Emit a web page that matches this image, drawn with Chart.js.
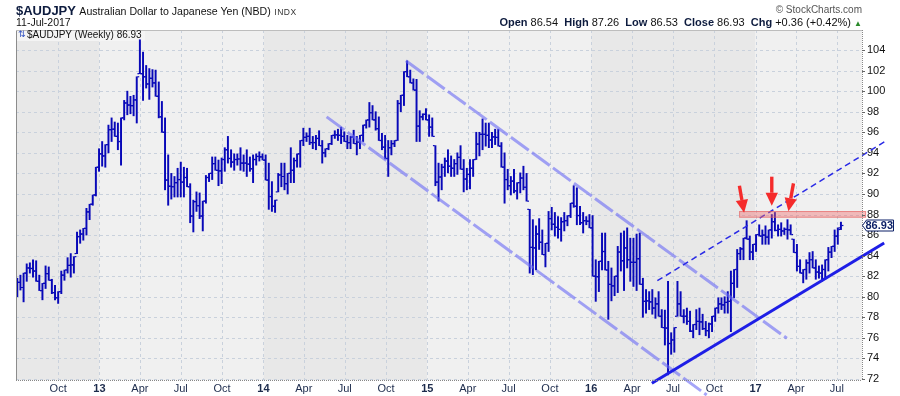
<!DOCTYPE html>
<html><head><meta charset="utf-8">
<script src="https://cdn.jsdelivr.net/npm/chart.js@4.4.0/dist/chart.umd.min.js"></script>
<style>
html,body{margin:0;padding:0;background:#fff;}
#wrap{position:relative;width:900px;height:396px;overflow:hidden;font-family:"Liberation Sans",Arial,sans-serif;}
canvas{position:absolute;left:0;top:0;}
.t{position:absolute;white-space:nowrap;line-height:1;}
</style></head><body>
<div id="wrap">
<canvas id="c" width="900" height="396"></canvas>
<div class="t" style="left:16px;top:4px;font-size:13px;font-weight:bold;color:#0d1b3e;">$AUDJPY <span style="font-weight:normal;font-size:10.6px;color:#111;">Australian Dollar to Japanese Yen (NBD)</span> <span style="font-weight:normal;font-size:8.5px;color:#333;letter-spacing:0.5px;">INDX</span></div>
<div class="t" style="left:16px;top:17px;font-size:10.5px;color:#111;">11-Jul-2017</div>
<div class="t" style="right:38px;top:5px;font-size:10px;color:#555;">&#169; StockCharts.com</div>
<div class="t" style="right:38px;top:17px;font-size:11px;color:#111;"><b style="color:#0d1b3e">Open</b> 86.54&nbsp; <b style="color:#0d1b3e">High</b> 87.26&nbsp; <b style="color:#0d1b3e">Low</b> 86.53&nbsp; <b style="color:#0d1b3e">Close</b> 86.93&nbsp; <b style="color:#0d1b3e">Chg</b> +0.36 (+0.42%) <span style="color:#2a8a2a;font-size:8px;">&#9650;</span></div>
<div class="t" style="left:18px;top:30px;font-size:9px;color:#3050c0;font-family:'DejaVu Sans';">&#8645;</div>
<div class="t" style="left:27px;top:30px;font-size:10px;color:#111;">$AUDJPY (Weekly) 86.93</div>
</div>
<script>
// ---- data (weekly bars, first bar week of 2012-07-02) ----
const firstBarDate = '2012-07-02';
const highs = [
81.8,82.1,82.3,83.2,83.3,83.6,83.5,82.1,81.3,83.0,
82.9,81.7,81.1,80.5,82.5,82.6,83.8,84.2,83.9,86.3,
86.5,86.65,88.6,89.0,89.9,92.6,94.4,95.1,94.8,96.7,
97.4,97.0,96.9,97.4,99.1,100.0,99.5,99.6,101.4,105.0,
103.8,102.5,102.2,102.1,102.05,100.9,99.0,97.4,93.8,92.0,
91.7,92.5,93.1,92.6,92.5,91.0,89.4,90.2,90.1,89.3,
91.8,92.0,93.6,93.6,93.3,93.5,94.5,95.6,94.3,93.9,
93.9,94.5,93.8,94.3,93.6,93.8,93.9,94.1,93.9,93.8,
93.0,91.2,89.4,92.0,93.0,93.0,92.0,94.5,93.5,93.9,
95.2,96.4,95.95,96.4,95.6,95.7,96.15,95.2,94.4,94.9,
95.7,96.15,96.3,96.5,96.05,95.7,95.6,96.2,95.6,95.7,
96.7,97.2,98.9,98.6,98.0,97.5,95.9,95.7,95.2,95.2,
95.2,99.1,99.6,101.9,102.95,102.05,101.2,101.15,98.1,97.8,
98.3,97.7,97.4,94.7,93.0,92.9,93.5,94.3,93.7,93.35,
94.0,94.7,93.35,92.5,93.35,93.35,96.0,96.0,97.3,96.9,
96.9,96.0,96.3,96.3,95.0,94.0,92.4,91.7,92.4,91.1,
92.05,92.7,92.0,88.5,87.5,86.9,87.6,86.5,85.2,88.3,
88.7,88.2,87.8,87.7,88.2,87.9,89.1,90.8,90.6,88.8,
88.2,87.8,88.0,87.9,83.6,83.45,86.2,86.2,83.45,82.8,
82.0,84.9,86.2,86.4,86.7,85.7,85.7,86.1,86.2,81.8,
80.7,80.5,80.7,79.9,80.5,78.75,78.7,81.5,76.5,77.0,
81.5,80.5,78.75,78.9,78.6,77.3,78.75,78.9,78.3,77.6,
77.45,78.1,78.9,79.9,79.9,80.0,80.5,82.5,82.65,84.6,
84.8,85.7,87.4,85.9,85.1,86.05,87.0,86.5,86.9,86.5,
88.0,88.2,87.0,87.2,86.7,87.5,87.0,85.6,85.1,83.6,
82.65,83.6,84.3,84.4,83.6,83.0,83.1,83.6,84.8,84.9,
86.5,86.7,87.26];
const lows = [
80.0,80.65,79.5,81.5,82.3,81.9,81.5,80.6,79.7,80.8,
81.6,80.3,79.7,79.35,80.3,81.6,82.3,81.9,82.3,84.2,
85.2,85.5,86.0,87.5,88.9,89.8,92.2,92.7,92.6,94.0,
95.1,95.6,94.3,92.8,97.2,97.7,97.8,97.6,96.9,101.7,
99.1,100.3,99.2,100.4,99.5,97.4,96.0,90.4,88.9,89.5,
89.7,89.7,89.7,89.7,90.7,87.2,86.3,88.3,87.6,86.4,
89.1,91.2,91.4,92.3,90.8,91.0,92.2,93.0,92.6,92.3,
92.8,92.3,92.2,91.7,92.2,91.1,92.8,93.2,93.3,91.35,
88.5,88.3,88.2,90.2,90.7,90.4,90.0,91.1,91.1,92.6,
92.6,94.7,95.1,94.8,94.4,94.3,94.7,93.0,93.6,94.3,
94.8,95.4,95.2,94.9,95.1,94.4,94.4,94.9,93.8,94.4,
95.1,96.4,96.5,97.2,96.2,95.2,94.3,93.4,91.7,93.8,
94.6,95.2,98.0,98.6,101.4,100.8,100.1,95.1,95.1,97.2,
97.2,95.6,95.6,90.8,89.3,90.4,91.7,92.05,91.7,91.7,
91.9,92.4,90.2,90.4,90.5,91.7,93.35,93.7,94.3,94.65,
94.5,94.5,94.8,94.65,92.6,89.1,90.4,89.9,90.1,89.5,
90.1,90.4,89.3,82.3,82.15,82.6,84.6,84.1,82.9,84.4,
86.5,85.9,85.7,85.4,86.4,86.9,87.7,88.7,87.0,87.0,
86.2,87.0,86.7,82.0,79.55,80.5,82.6,82.6,77.8,79.6,
80.1,80.4,82.5,80.6,82.8,81.5,81.0,80.6,81.2,78.0,
78.4,78.75,78.3,77.9,78.1,77.0,75.3,72.4,74.4,74.6,
78.1,78.1,77.45,77.3,76.6,76.0,76.8,76.3,76.8,76.2,
76.0,76.6,77.6,78.4,78.75,78.4,78.4,76.6,79.9,80.9,
83.6,83.6,85.6,83.6,83.6,84.4,85.9,85.1,85.1,85.1,
85.7,86.4,85.9,85.9,86.05,85.6,86.05,84.3,82.5,82.3,
81.35,81.7,82.3,82.8,81.7,81.8,81.5,81.7,82.5,83.8,
84.4,85.1,86.53];
const opens = [
80.5,81.4,80.9,82.3,82.8,82.75,82.5,81.5,80.6,81.3,
82.25,81.6,80.4,79.9,80.5,82.1,82.6,83.05,83.1,84.2,
85.85,86.1,86.65,88.25,89.0,89.9,92.6,93.9,93.7,94.8,
96.25,96.3,95.6,95.1,97.4,98.85,98.65,98.6,99.15,101.7,
101.7,101.4,100.7,101.25,100.8,99.5,97.5,96.0,91.35,90.75,
90.7,91.1,91.4,91.15,91.6,90.7,87.85,89.25,88.85,87.85,
89.3,91.6,92.0,92.95,92.3,92.25,93.35,94.3,93.45,93.1,
93.35,93.4,93.0,93.0,92.9,92.45,93.35,93.65,93.6,93.3,
91.35,89.75,88.8,90.2,91.85,91.7,91.0,92.0,92.3,93.25,
93.9,95.2,95.5,95.6,95.0,95.0,95.4,94.7,94.0,94.4,
94.9,95.7,95.75,95.7,95.6,95.1,95.0,95.55,94.9,95.05,
95.7,96.7,97.2,97.9,97.2,96.35,95.2,94.55,93.45,94.5,
94.9,95.2,98.8,99.6,101.9,101.4,100.8,100.1,96.6,97.5,
97.75,97.2,96.5,94.7,91.15,91.65,92.6,93.2,92.7,92.5,
92.95,93.55,92.4,91.45,91.9,92.5,93.35,94.85,95.8,95.8,
95.7,95.25,95.55,95.5,94.65,92.6,91.4,90.8,91.25,90.3,
91.1,91.55,90.65,88.5,84.8,84.75,86.1,85.3,84.1,85.2,
87.6,87.05,86.75,86.55,87.3,87.4,87.9,89.1,88.8,87.9,
87.2,87.4,87.35,86.7,82.0,81.95,83.45,84.4,82.6,81.2,
81.05,82.0,84.35,83.5,84.75,83.6,83.35,83.35,83.7,81.2,
79.55,79.6,79.5,78.9,79.3,78.1,77.0,76.95,75.45,75.8,
78.1,79.3,78.1,78.1,77.6,76.65,77.3,77.6,77.55,76.9,
76.7,77.35,78.1,78.9,79.3,79.2,79.45,79.55,81.3,82.65,
84.2,84.65,85.7,85.6,84.35,85.1,86.05,85.9,86.0,85.8,
86.5,87.3,86.45,86.55,86.4,86.55,86.5,85.6,84.3,82.95,
82.3,82.65,83.3,83.6,82.8,82.4,82.3,82.65,83.6,84.35,
84.9,85.9,86.54];
const closes = [
81.4,80.9,82.3,82.8,82.75,82.5,81.5,80.6,81.3,82.25,
81.6,80.4,79.9,80.5,82.1,82.6,83.05,83.1,83.9,85.85,
86.1,86.65,88.25,89.0,89.9,92.6,93.9,93.7,94.8,96.25,
96.3,95.6,95.1,97.4,98.85,98.65,98.6,99.15,101.4,101.7,
101.4,100.7,101.25,100.8,99.5,97.5,96.0,91.35,90.75,90.7,
91.1,91.4,91.15,91.6,90.7,87.85,89.25,88.85,87.85,89.3,
91.6,92.0,92.95,92.3,92.25,93.35,94.3,93.45,93.1,93.35,
93.4,93.0,93.0,92.9,92.45,93.35,93.65,93.6,93.3,91.35,
89.75,88.8,89.4,91.85,91.7,91.0,92.0,92.3,93.25,93.9,
95.2,95.5,95.6,95.0,95.0,95.4,94.7,94.0,94.4,94.9,
95.7,95.75,95.7,95.6,95.1,95.0,95.55,94.9,95.05,95.7,
96.7,97.2,97.9,97.2,96.35,95.2,94.55,93.45,94.5,94.9,
95.2,98.8,99.6,101.9,101.4,100.8,100.1,96.6,97.5,97.75,
97.2,96.5,95.6,91.15,91.65,92.6,93.2,92.7,92.5,92.95,
93.55,92.4,91.45,91.9,92.5,93.35,94.85,95.8,95.8,95.7,
95.25,95.55,95.5,94.65,92.6,91.4,90.8,91.25,90.3,91.1,
91.55,90.65,89.3,84.8,84.75,86.1,85.3,84.1,85.2,87.6,
87.05,86.75,86.55,87.3,87.4,87.9,89.1,88.8,87.9,87.2,
87.4,87.35,86.7,82.0,81.95,83.45,84.4,82.6,81.2,81.05,
82.0,84.35,83.5,84.75,83.6,83.35,83.35,83.7,81.2,79.55,
79.6,79.5,78.9,79.3,78.1,77.0,76.95,75.45,75.8,77.0,
79.3,78.1,78.1,77.6,76.65,77.3,77.6,77.55,76.9,76.7,
77.35,78.1,78.9,79.3,79.2,79.45,79.55,81.3,82.65,84.2,
84.65,85.7,85.6,84.35,85.1,86.05,85.9,86.0,85.8,86.5,
87.3,86.45,86.55,86.4,86.55,86.5,86.05,84.3,82.95,82.3,
82.65,83.3,83.6,82.8,82.4,82.3,82.65,83.6,84.35,84.9,
85.9,86.7,86.93];
const lastClose = 86.93;

// axis ticks
const xTickDates = ['2012-10-01','2013-01-01','2013-04-01','2013-07-01','2013-10-01','2014-01-01','2014-04-01','2014-07-01','2014-10-01','2015-01-01','2015-04-01','2015-07-01','2015-10-01','2016-01-01','2016-04-01','2016-07-01','2016-10-01','2017-01-01','2017-04-01','2017-07-01'];
const xTickLabels = ['Oct','13','Apr','Jul','Oct','14','Apr','Jul','Oct','15','Apr','Jul','Oct','16','Apr','Jul','Oct','17','Apr','Jul'];
const yearStarts = ['2013-01-01','2014-01-01','2015-01-01','2016-01-01','2017-01-01'];
const yTicks = [72,74,76,78,80,82,84,86,88,90,92,94,96,98,100,102,104];

// annotations (bar index, price)
const channelUpper = [{x:123.6,y:102.96},{x:244.8,y:75.96}];
const channelLower = [{x:98.4,y:97.5},{x:219.3,y:70.44}];
const supportLine = [{x:201.85,y:71.58},{x:275.75,y:85.23}];
const parallelLine = [{x:203.6,y:81.56},{x:276.8,y:95.25}];
const resistanceZone = {x0:229.6,x1:270.0,y0:87.69,y1:88.34};
const arrowsData = [
  {x0:229.7,y0:90.8,x1:231.2,y1:88.17},
  {x0:240.0,y0:91.68,x1:240.0,y1:88.85},
  {x0:246.9,y0:91.03,x1:245.3,y1:88.32}
];

// ---- helpers ----
const DAY = 864e5;
const t0 = Date.parse(firstBarDate + 'T00:00:00Z');
const toIdx = s => (Date.parse(s + 'T00:00:00Z') - t0) / (7*DAY);
const xTickPos = xTickDates.map(toIdx);
const BAR = '#0808b8';

const hlData = highs.map((h,i)=>({x:i, y:[lows[i], h]}));
const openData = opens.map((o,i)=>({x:i-0.5, y:o}));
const closeData = closes.map((c,i)=>({x:i+0.5, y:c}));

const deco = {
  id:'deco',
  beforeDraw(chart){
    const {ctx, chartArea:a, scales:{x}} = chart;
    ctx.save();
    const b = [x.min, ...yearStarts.map(toIdx), x.max];
    for(let k=0;k<b.length-1;k++){
      const x0 = Math.max(a.left, x.getPixelForValue(b[k]));
      const x1 = Math.min(a.right, x.getPixelForValue(b[k+1]));
      ctx.fillStyle = (k%2===0) ? '#e8e8e8' : '#f0f0f0';
      ctx.fillRect(x0, a.top, x1-x0, a.bottom-a.top);
    }
    ctx.restore();
  },
  beforeDatasetsDraw(chart){
    const {ctx, chartArea:a, scales:{x,y}} = chart;
    ctx.save();
    ctx.strokeStyle = '#c9d1dc';
    ctx.lineWidth = 1;
    ctx.setLineDash([3,3]);
    yTicks.forEach(v=>{
      const py = Math.round(y.getPixelForValue(v))+0.5;
      ctx.beginPath(); ctx.moveTo(a.left, py); ctx.lineTo(a.right, py); ctx.stroke();
    });
    xTickPos.forEach(v=>{
      const px = Math.round(x.getPixelForValue(v))+0.5;
      ctx.beginPath(); ctx.moveTo(px, a.top); ctx.lineTo(px, a.bottom); ctx.stroke();
    });
    ctx.setLineDash([]);
    ctx.fillStyle = 'rgba(245,245,245,0.9)';
    ctx.fillRect(a.left+1, a.top+1, 128, 10);
    ctx.restore();
  },
  afterDatasetsDraw(chart){
    const {ctx, chartArea:a, scales:{x,y}} = chart;
    ctx.save();
    const rx0 = x.getPixelForValue(resistanceZone.x0), rx1 = x.getPixelForValue(resistanceZone.x1);
    const ry0 = y.getPixelForValue(resistanceZone.y1), ry1 = y.getPixelForValue(resistanceZone.y0);
    ctx.fillStyle = 'rgba(240,110,110,0.42)';
    ctx.fillRect(rx0, ry0, rx1-rx0, ry1-ry0);
    ctx.strokeStyle = 'rgba(225,90,90,0.55)';
    ctx.lineWidth = 1;
    ctx.strokeRect(rx0+0.5, ry0+0.5, rx1-rx0-1, ry1-ry0-1);
    arrowsData.forEach(d=>{
      const X0 = x.getPixelForValue(d.x0), Y0 = y.getPixelForValue(d.y0);
      const X1 = x.getPixelForValue(d.x1), Y1 = y.getPixelForValue(d.y1);
      const ang = Math.atan2(Y1-Y0, X1-X0);
      const hl = 13, hw = 6.2;
      const bx = X1 - Math.cos(ang)*hl, by = Y1 - Math.sin(ang)*hl;
      ctx.strokeStyle = '#f52b2b'; ctx.lineWidth = 3.4; ctx.lineCap='butt';
      ctx.beginPath(); ctx.moveTo(X0,Y0); ctx.lineTo(bx,by); ctx.stroke();
      ctx.fillStyle = '#f52b2b';
      ctx.beginPath();
      ctx.moveTo(X1,Y1);
      ctx.lineTo(bx + Math.sin(ang)*hw, by - Math.cos(ang)*hw);
      ctx.lineTo(bx - Math.sin(ang)*hw, by + Math.cos(ang)*hw);
      ctx.closePath(); ctx.fill();
    });
    ctx.lineWidth = 1;
    ctx.strokeStyle = '#8c8c8c';
    ctx.beginPath(); ctx.moveTo(a.left+0.5, a.top); ctx.lineTo(a.left+0.5, a.bottom); ctx.stroke();
    ctx.strokeStyle = '#bdbdbd';
    ctx.beginPath(); ctx.moveTo(a.left, a.top+0.5); ctx.lineTo(a.right, a.top+0.5); ctx.stroke();
    ctx.strokeStyle = '#888';
    ctx.setLineDash([1,1]);
    ctx.beginPath(); ctx.moveTo(a.left, a.bottom+0.5); ctx.lineTo(a.right, a.bottom+0.5); ctx.stroke();
    ctx.beginPath(); ctx.moveTo(a.right+0.5, a.top); ctx.lineTo(a.right+0.5, a.bottom); ctx.stroke();
    ctx.setLineDash([]);
    ctx.strokeStyle = '#666';
    yTicks.forEach(v=>{
      const py = Math.round(y.getPixelForValue(v))+0.5;
      ctx.beginPath(); ctx.moveTo(a.right, py); ctx.lineTo(a.right+3, py); ctx.stroke();
    });
    const py = y.getPixelForValue(lastClose);
    const L = a.right, R = a.right + 31;
    ctx.beginPath();
    ctx.moveTo(L+0.5, py);
    ctx.lineTo(L+4.5, py-5.5);
    ctx.lineTo(R+0.5, py-5.5);
    ctx.lineTo(R+0.5, py+5.5);
    ctx.lineTo(L+4.5, py+5.5);
    ctx.closePath();
    ctx.fillStyle = '#ffffff'; ctx.fill();
    ctx.strokeStyle = '#0b1f66'; ctx.lineWidth = 1; ctx.stroke();
    ctx.fillStyle = '#0b1f66';
    ctx.font = 'bold 11px "Liberation Sans", Arial, sans-serif';
    ctx.textBaseline = 'middle'; ctx.textAlign = 'left';
    ctx.fillText(lastClose.toFixed(2), L+3.5, py+0.5);
    ctx.restore();
  }
};

new Chart(document.getElementById('c'), {
  type:'bar',
  data:{ datasets:[
    {type:'line', data:supportLine, borderColor:'#1e1ee6', borderWidth:3, pointRadius:0, clip:false, order:0},
    {type:'line', data:parallelLine, borderColor:'#2a2ae6', borderWidth:1.5, borderDash:[6,4], pointRadius:0, clip:false, order:0},
    {type:'line', data:channelUpper, borderColor:'rgba(105,105,245,0.6)', borderWidth:3, borderDash:[22,4], pointRadius:0, clip:false, order:1},
    {type:'line', data:channelLower, borderColor:'rgba(105,105,245,0.6)', borderWidth:3, borderDash:[22,4], pointRadius:0, clip:false, order:1},
    {type:'line', data:openData, showLine:false, pointStyle:'line', pointRadius:0.9, pointBorderWidth:1.2, pointBorderColor:BAR, pointBackgroundColor:BAR, order:3},
    {type:'line', data:closeData, showLine:false, pointStyle:'line', pointRadius:0.9, pointBorderWidth:1.2, pointBorderColor:BAR, pointBackgroundColor:BAR, order:3},
    {type:'bar', data:hlData, backgroundColor:BAR, barThickness:1.3, order:4}
  ]},
  options:{
    responsive:false, animation:false, events:[],
    layout:{padding:{left:16, top:30, right:0, bottom:0}},
    plugins:{legend:{display:false}, tooltip:{enabled:false}},
    scales:{
      x:{type:'linear', min:-0.41, max:268.7, offset:false,
         grid:{display:false, drawTicks:false}, border:{display:false},
         afterBuildTicks:(ax)=>{ ax.ticks = xTickPos.map(v=>({value:v})); },
         afterFit:(ax)=>{ ax.height = 16; },
         ticks:{autoSkip:false, maxRotation:0, padding:2, color:'#1c2b4c',
           font:(c)=>({family:'"Liberation Sans", Arial, sans-serif', size:11, weight:(/^\d+$/.test(xTickLabels[c.index]||'')?'bold':'normal')}),
           callback:(v,i)=>xTickLabels[i]}},
      y:{type:'linear', position:'right', min:71.9, max:105.95,
         grid:{display:false, drawTicks:false}, border:{display:false},
         afterBuildTicks:(ax)=>{ ax.ticks = yTicks.map(v=>({value:v})); },
         afterFit:(ax)=>{ ax.width = 38; },
         ticks:{padding:5, color:'#111', font:{family:'"Liberation Sans", Arial, sans-serif', size:11}, callback:(v)=>String(v)}}
    }
  },
  plugins:[deco]
});
</script>
</body></html>
